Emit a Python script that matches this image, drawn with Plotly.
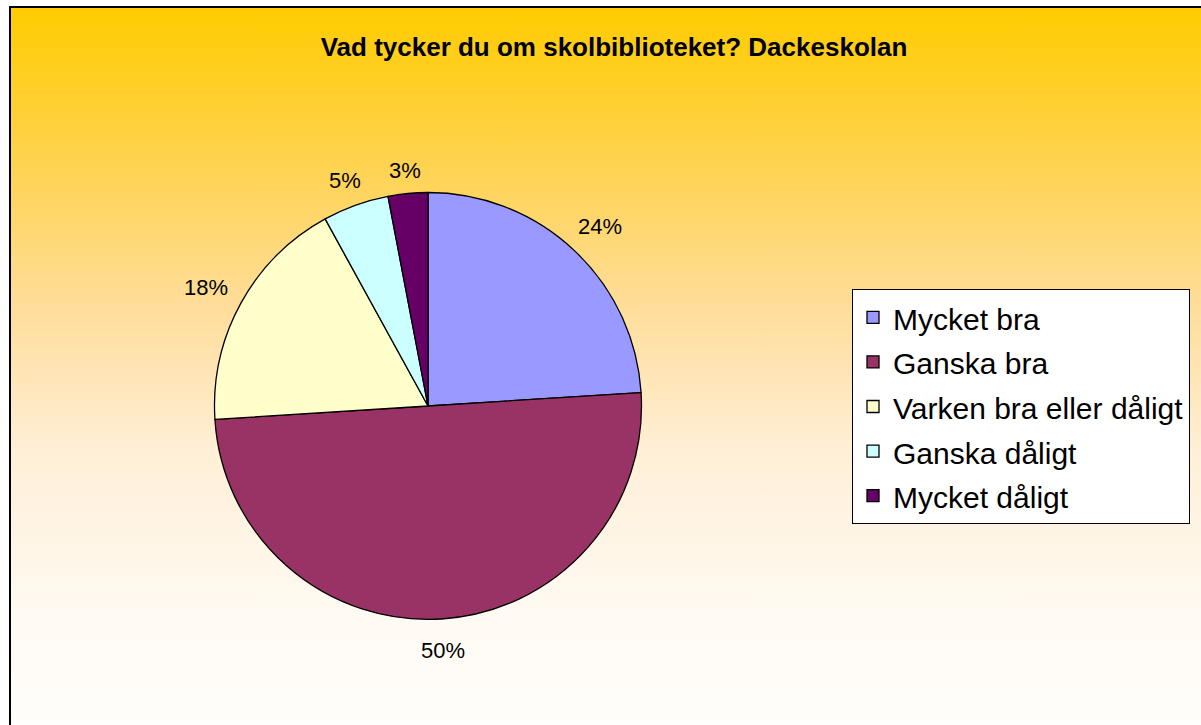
import math
import plotly.graph_objects as go

# Data
categories = ["Mycket bra", "Ganska bra", "Varken bra eller dåligt", "Ganska dåligt", "Mycket dåligt"]
values = [24, 50, 18, 5, 3]
slice_colors = ["#9999FF", "#993366", "#FFFFCC", "#CCFFFF", "#660066"]
title_text = "Vad tycker du om skolbiblioteket? Dackeskolan"

W, H = 1201, 725
FONT = "Liberation Sans, Arial, sans-serif"
LABEL_SIZE = 22

# pie geometry (pixels in figure space)
cx, cy, R = 428, 406, 213.5

legend_labels = [f'<span style="font-size:30px">{c}</span>' for c in categories]

fig = go.Figure()

# gradient chart-area background on a hidden pixel-unit cartesian axis
left, top = 10, 7
fig.add_trace(go.Scatter(
    x=[left, W + 10, W + 10, left, left],
    y=[H + 10, H + 10, top, top, H + 10],
    mode="lines",
    line=dict(width=0),
    fill="toself",
    fillgradient=dict(
        type="vertical",
        start=H + 8, stop=top,
        colorscale=[
            [0.0, "#FFFEFC"],
            [0.17, "#FFFAF2"],
            [0.39, "#FFEFD6"],
            [0.59, "#FFDD99"],
            [0.80, "#FFD24A"],
            [1.0, "#FFCC00"],
        ],
    ),
    hoverinfo="skip",
    showlegend=False,
))

fig.add_trace(go.Pie(
    labels=legend_labels,
    values=values,
    sort=False,
    direction="clockwise",
    rotation=0,
    marker=dict(colors=slice_colors, line=dict(color="black", width=1.3)),
    textinfo="none",
    domain=dict(x=[(cx - R) / W, (cx + R) / W],
                y=[(H - cy - R) / H, (H - cy + R) / H]),
    hoverinfo="percent",
))

# percentage labels placed outside each slice, derived from the data
total = sum(values)
annotations = []
cum = 0
for v in values:
    mid = (cum + v / 2) / total * 2 * math.pi
    dx, dy = math.sin(mid), -math.cos(mid)
    txt = f"{round(100 * v / total)}%"
    ndig = len(txt) - 1
    hw = LABEL_SIZE * (0.556 * ndig + 0.889) / 2
    hh = 10
    d = R + 16 + abs(dx) * hw + abs(dy) * hh
    annotations.append(dict(
        x=cx + d * dx, y=cy + d * dy + 4, xref="x", yref="y",
        text=txt, showarrow=False, xanchor="center", yanchor="middle",
        font=dict(family=FONT, size=LABEL_SIZE, color="black"),
    ))
    cum += v

fig.update_layout(
    width=W,
    height=H,
    margin=dict(l=0, r=0, t=0, b=0, autoexpand=False),
    paper_bgcolor="white",
    plot_bgcolor="rgba(0,0,0,0)",
    font=dict(family=FONT, color="black"),
    xaxis=dict(range=[0, W], domain=[0, 1], visible=False, fixedrange=True),
    yaxis=dict(range=[H, 0], domain=[0, 1], visible=False, fixedrange=True),
    title=dict(
        text="<b>" + title_text + "</b>",
        x=614 / W, xanchor="center",
        y=(H - 47) / H, yanchor="middle",
        font=dict(family=FONT, size=26, color="black"),
    ),
    legend=dict(
        x=852 / W, xanchor="left",
        y=(H - 289) / H, yanchor="top",
        bgcolor="white",
        bordercolor="black",
        borderwidth=1,
        font=dict(family=FONT, size=32, color="black"),
    ),
    annotations=annotations,
    shapes=[
        dict(type="rect", xref="x", yref="y",
             x0=left, x1=W + 20, y0=H + 20, y1=top,
             line=dict(color="black", width=2), fillcolor="rgba(0,0,0,0)",
             layer="above"),
    ],
)

fig.write_html(
    "out.html",
    config={"displayModeBar": False},
    post_script="document.body.style.margin='0';document.body.style.overflow='hidden';",
)
